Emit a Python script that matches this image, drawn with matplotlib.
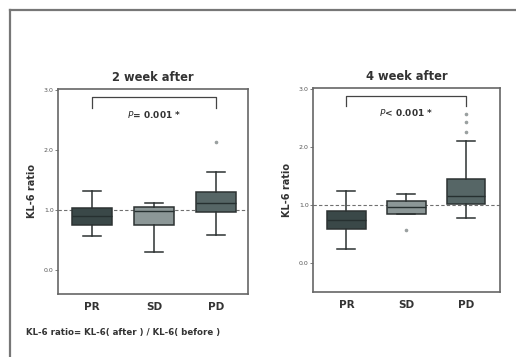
import matplotlib.pyplot as plt
from matplotlib.lines import Line2D

groups = ["PR", "SD", "PD"]
box_colors = ["#3a4848", "#8c9797", "#566666"]

# 2 week after: whisker low, Q1, median, Q3, whisker high
wk2_lo = [0.57, 0.30, 0.58]
wk2_q1 = [0.75, 0.75, 0.96]
wk2_med = [0.90, 0.99, 1.11]
wk2_q3 = [1.04, 1.045, 1.30]
wk2_hi = [1.32, 1.12, 1.63]
wk2_fliers = [[], [], [2.14]]

# 4 week after
wk4_lo = [0.24, 0.84, 0.78]
wk4_q1 = [0.59, 0.84, 1.02]
wk4_med = [0.74, 0.96, 1.155]
wk4_q3 = [0.90, 1.07, 1.45]
wk4_hi = [1.25, 1.19, 2.10]
wk4_fliers = [[], [0.57], [2.26, 2.44, 2.57]]

yticks = [0.0, 1.0, 2.0, 3.0]


def make_stats(lo, q1, med, q3, hi, fl):
    return [dict(whislo=lo[i], q1=q1[i], med=med[i], q3=q3[i], whishi=hi[i],
                 fliers=fl[i], label=groups[i]) for i in range(len(groups))]


def panel(ax, stats, title, ptext, xlim, ybottom):
    edge = "#2c3232"
    bp = ax.bxp(stats, widths=0.65, capwidths=0.3, patch_artist=True,
                boxprops=dict(edgecolor=edge, linewidth=1.1),
                medianprops=dict(color="#263030", linewidth=1.0),
                whiskerprops=dict(color=edge, linewidth=1.1),
                capprops=dict(color=edge, linewidth=1.1),
                flierprops=dict(marker="o", markersize=1.6, markerfacecolor="#9aa0a0",
                                markeredgecolor="#9aa0a0"))
    for patch, c in zip(bp["boxes"], box_colors):
        patch.set_facecolor(c)
    ax.axhline(1.0, color="#707070", linestyle=(0, (3, 2)), linewidth=0.8, zorder=0)
    ax.set_xlim(*xlim)
    ax.set_ylim(ybottom, 3.02)
    ax.set_yticks(yticks)
    ax.set_yticklabels(["%.1f" % v for v in yticks], fontsize=4.5, color="#555555")
    ax.tick_params(axis="y", length=2, width=0.6, color="#666666", pad=1)
    ax.tick_params(axis="x", length=0, pad=6)
    for lab in ax.get_xticklabels():
        lab.set_fontsize(7.5)
        lab.set_fontweight("bold")
        lab.set_color("#333333")
    for s in ax.spines.values():
        s.set_color("#666666")
        s.set_linewidth(1.2)
    ax.set_ylabel("KL-6 ratio", fontsize=7, fontweight="bold", color="#333333", labelpad=5)
    ax.set_title(title, fontsize=8.3, fontweight="bold", color="#333333", pad=6)
    # significance bracket PR vs PD
    ax.plot([1, 1, 3, 3], [2.71, 2.88, 2.88, 2.71], color="#444444", linewidth=0.9)
    ax.text(2, 2.6, ptext, ha="center", va="center", fontsize=6.5,
            fontweight="bold", color="#333333")


fig = plt.figure(figsize=(5.16, 3.57), dpi=100)
ax1 = fig.add_axes([58 / 516, 1 - 294 / 357, 190 / 516, 205 / 357])
ax2 = fig.add_axes([313 / 516, 1 - 292 / 357, 187 / 516, 204 / 357])

panel(ax1, make_stats(wk2_lo, wk2_q1, wk2_med, wk2_q3, wk2_hi, wk2_fliers),
      "2 week after", "$\\mathit{P}$= 0.001 *", (0.45, 3.52), -0.4)
panel(ax2, make_stats(wk4_lo, wk4_q1, wk4_med, wk4_q3, wk4_hi, wk4_fliers),
      "4 week after", "$\\mathit{P}$< 0.001 *", (0.44, 3.57), -0.5)

fig.text(26 / 516, 1 - 333 / 357, "KL-6 ratio= KL-6( after ) / KL-6( before )",
         fontsize=6.2, fontweight="bold", color="#333333", va="center")

# outer frame of the scanned figure
fig.add_artist(Line2D([10 / 516, 10 / 516], [0, 1 - 10 / 357], transform=fig.transFigure,
                      color="#777777", linewidth=1.6))
fig.add_artist(Line2D([10 / 516, 1], [1 - 10 / 357, 1 - 10 / 357], transform=fig.transFigure,
                      color="#777777", linewidth=1.6))

fig.savefig("out.png", dpi=100)
